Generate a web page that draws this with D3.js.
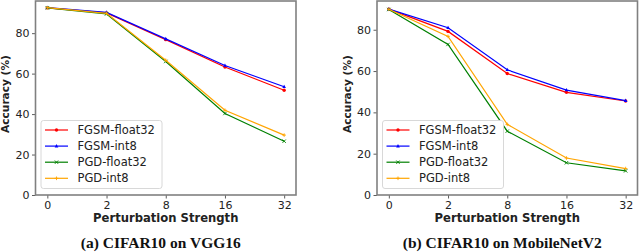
<!DOCTYPE html>
<html>
<head>
<meta charset="utf-8">
<script src="https://cdn.jsdelivr.net/npm/d3@7"></script>
<style>
  body { margin: 0; background: #fff; }
  svg { display: block; }
</style>
</head>
<body>
<div id="chart"></div>
<script>
// Define SVG area dimensions
var svgWidth = 640;
var svgHeight = 252;

// Data
var strengths = ["0", "2", "8", "16", "32"];
var seriesNames = ["FGSM-float32", "FGSM-int8", "PGD-float32", "PGD-int8"];
var seriesColors = ["#ff0000", "#0000ff", "#008000", "#ffa500"];
var seriesMarkers = ["dot", "triangle", "x", "plus"];
var yTicks = [0, 20, 40, 60, 80];

var vggFgsmFloat = [92.5, 90.0, 76.8, 63.3, 51.8];
var vggFgsmInt = [92.6, 90.3, 77.2, 64.0, 53.5];
var vggPgdFloat = [92.5, 89.5, 66.0, 40.3, 26.6];
var vggPgdInt = [92.6, 89.8, 66.6, 41.9, 29.6];

var mobFgsmFloat = [90.0, 79.2, 58.8, 49.7, 45.5];
var mobFgsmInt = [90.0, 81.0, 60.6, 50.8, 45.7];
var mobPgdFloat = [89.8, 72.9, 30.9, 15.6, 11.7];
var mobPgdInt = [89.9, 76.8, 34.2, 17.9, 12.8];

var panels = [
  { left: 35.5, right: 296, caption: "(a) CIFAR10 on VGG16",
    series: [vggFgsmFloat, vggFgsmInt, vggPgdFloat, vggPgdInt] },
  { left: 377, right: 637.5, caption: "(b) CIFAR10 on MobileNetV2",
    series: [mobFgsmFloat, mobFgsmInt, mobPgdFloat, mobPgdInt] }
];

var plotTop = 1;
var plotBottom = 195;

var svg = d3.select("#chart")
  .append("svg")
  .attr("width", svgWidth)
  .attr("height", svgHeight);

function drawMarker(g, kind, x, y, color) {
  if (kind == "dot") {
    g.append("circle").attr("cx", x).attr("cy", y).attr("r", 1.7).attr("fill", color);
  } else if (kind == "triangle") {
    g.append("path")
      .attr("d", `M${x},${y - 2}L${x + 1.8},${y + 1.3}L${x - 1.8},${y + 1.3}Z`)
      .attr("fill", color);
  } else if (kind == "x") {
    g.append("path")
      .attr("d", `M${x - 1.7},${y - 1.7}L${x + 1.7},${y + 1.7}M${x - 1.7},${y + 1.7}L${x + 1.7},${y - 1.7}`)
      .attr("stroke", color).attr("stroke-width", 0.9);
  } else {
    g.append("path")
      .attr("d", `M${x - 1.8},${y}L${x + 1.8},${y}M${x},${y - 1.8}L${x},${y + 1.8}`)
      .attr("stroke", color).attr("stroke-width", 0.9);
  }
}

panels.forEach(function(p) {
  var g = svg.append("g");

  var allValues = d3.merge(p.series);
  var yMin = d3.min(allValues), yMax = d3.max(allValues);

  // Point scale with matplotlib-like 5% margins
  var xScale = d3.scalePoint()
    .domain(strengths)
    .range([p.left, p.right])
    .padding(0.2);

  var yScale = d3.scaleLinear()
    .domain([0, yMax + 0.05 * (yMax - yMin)])
    .range([plotBottom, plotTop]);

  // Axes
  var bottomAxis = d3.axisBottom(xScale).tickSize(3.5).tickPadding(2.5);
  var leftAxis = d3.axisLeft(yScale).tickValues(yTicks).tickSize(3.5).tickPadding(2.5);

  var xg = g.append("g")
    .attr("transform", `translate(0, ${plotBottom})`)
    .call(bottomAxis);
  var yg = g.append("g")
    .attr("transform", `translate(${p.left}, 0)`)
    .call(leftAxis);

  [xg, yg].forEach(function(a) {
    a.select(".domain").remove();
    a.selectAll(".tick line").attr("stroke", "#333").attr("stroke-width", 0.8);
    a.selectAll(".tick text")
      .attr("fill", "#222")
      .style("font-family", "DejaVu Sans")
      .style("font-size", "11px");
  });

  // Lines and markers
  var line = d3.line()
    .x((d, i) => xScale(strengths[i]))
    .y(d => yScale(d));

  p.series.forEach(function(values, si) {
    g.append("path")
      .datum(values)
      .attr("d", line)
      .attr("fill", "none")
      .attr("stroke", seriesColors[si])
      .attr("stroke-width", 1.2);
    values.forEach(function(v, i) {
      drawMarker(g, seriesMarkers[si], xScale(strengths[i]), yScale(v), seriesColors[si]);
    });
  });

  // Frame
  g.append("rect")
    .attr("x", p.left)
    .attr("y", plotTop)
    .attr("width", p.right - p.left)
    .attr("height", plotBottom - plotTop)
    .attr("fill", "none")
    .attr("stroke", "#808080")
    .attr("stroke-width", 1.6);

  // Legend
  var lx = p.left + 5.5, ly = 120.5;
  var legend = g.append("g");
  legend.append("rect")
    .attr("x", lx).attr("y", ly)
    .attr("width", 121).attr("height", 68)
    .attr("rx", 2.5)
    .attr("fill", "#fff")
    .attr("stroke", "#d4d4d4")
    .attr("stroke-width", 0.9);
  seriesNames.forEach(function(name, si) {
    var yy = ly + 9.5 + si * 16.1;
    legend.append("line")
      .attr("x1", lx + 4).attr("x2", lx + 27)
      .attr("y1", yy).attr("y2", yy)
      .attr("stroke", seriesColors[si])
      .attr("stroke-width", 1.2);
    drawMarker(legend, seriesMarkers[si], lx + 15.5, yy, seriesColors[si]);
    legend.append("text")
      .attr("x", lx + 36.5)
      .attr("y", yy + 4)
      .attr("fill", "#222")
      .style("font-family", "DejaVu Sans")
      .style("font-size", "11.5px")
      .text(name);
  });

  // Axis labels
  g.append("text")
    .attr("x", (p.left + p.right) / 2)
    .attr("y", 222)
    .attr("text-anchor", "middle")
    .attr("fill", "#222")
    .style("font-family", "DejaVu Sans")
    .style("font-weight", "bold")
    .style("font-size", "11.6px")
    .text("Perturbation Strength");

  g.append("text")
    .attr("transform", `translate(${p.left - 26.5}, ${(plotTop + plotBottom) / 2 - 4}) rotate(-90)`)
    .attr("text-anchor", "middle")
    .attr("fill", "#222")
    .style("font-family", "DejaVu Sans")
    .style("font-weight", "bold")
    .style("font-size", "10.6px")
    .text("Accuracy (%)");

  // Caption
  g.append("text")
    .attr("x", (p.left + p.right) / 2 - 5)
    .attr("y", 247.5)
    .attr("text-anchor", "middle")
    .attr("fill", "#111")
    .style("font-family", "Liberation Serif")
    .style("font-weight", "bold")
    .style("font-size", "15.5px")
    .text(p.caption);
});
</script>
</body>
</html>
